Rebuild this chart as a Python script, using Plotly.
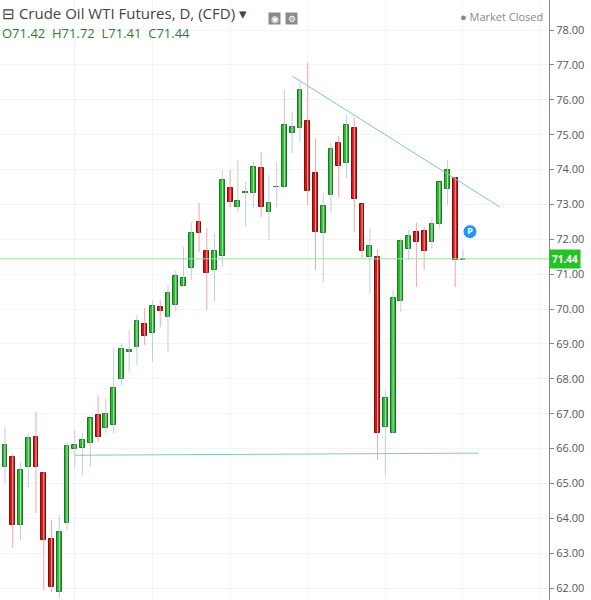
import plotly.graph_objects as go

# daily candles, oldest first
opens = [65.47, 65.76, 63.81, 65.47, 66.33, 65.30, 63.40, 61.89, 63.86, 66.00,
         66.01, 66.16, 66.96, 66.59, 66.67, 67.99, 68.78, 68.91, 69.57, 69.31,
         70.06, 69.77, 70.11, 70.66, 71.18, 72.49, 71.66, 71.12, 71.52, 73.47,
         72.92, 73.32, 73.33, 74.04, 72.78, 73.49, 73.50, 75.05, 75.19, 75.39,
         73.90, 72.18, 73.27, 74.76, 74.19, 75.19, 73.01, 71.49, 71.49, 66.62,
         66.44, 70.23, 71.72, 72.21, 72.24, 71.92, 72.44, 73.44, 73.76, 71.42]
highs = [66.62, 65.85, 65.60, 66.44, 67.05, 65.33, 63.95, 64.09, 66.16, 66.53,
         66.44, 66.87, 67.53, 67.42, 68.88, 69.02, 69.40, 69.83, 70.03, 70.26,
         70.26, 70.70, 71.10, 71.78, 72.49, 73.04, 72.32, 72.18, 73.99, 73.99,
         74.27, 73.64, 74.21, 74.50, 73.84, 74.21, 76.28, 75.65, 76.48, 77.05,
         74.90, 73.33, 74.79, 74.96, 75.56, 75.48, 73.01, 72.32, 71.72, 67.68,
         70.54, 72.04, 72.26, 72.47, 72.35, 72.64, 73.64, 74.27, 73.79, 71.72]
lows = [65.01, 63.15, 63.38, 64.87, 64.15, 61.94, 61.89, 61.71, 63.66, 65.44,
        65.24, 65.47, 66.19, 66.44, 66.44, 67.82, 68.19, 68.39, 68.97, 68.48,
        69.48, 68.77, 69.95, 70.63, 70.83, 71.63, 69.97, 70.20, 71.20, 72.92,
        72.78, 72.35, 72.90, 72.64, 71.98, 72.90, 73.50, 74.47, 74.79, 72.98,
        71.12, 70.77, 72.75, 73.21, 73.76, 72.21, 71.46, 70.46, 65.67, 65.24,
        66.44, 69.91, 71.40, 70.63, 71.12, 71.75, 72.30, 72.98, 70.63, 71.41]
closes = [66.10, 63.81, 65.38, 66.30, 65.47, 63.38, 62.03, 63.60, 66.07, 66.10,
          66.24, 66.87, 66.33, 66.99, 67.73, 68.85, 68.82, 69.66, 69.23, 70.09,
          69.94, 70.45, 70.95, 70.89, 72.18, 72.18, 71.03, 71.66, 73.70, 73.07,
          73.10, 73.35, 74.07, 72.92, 73.04, 73.51, 75.28, 75.22, 76.28, 73.38,
          72.21, 72.95, 74.59, 74.10, 75.28, 73.15, 71.66, 71.81, 66.44, 67.45,
          70.31, 71.95, 72.09, 71.92, 71.66, 72.44, 73.64, 73.99, 71.41, 71.44]
days = list(range(len(opens)))

resistance_x = [37.0, 63.8]
resistance_y = [76.68, 72.92]
support_x = [9.0, 61.0]
support_y = [65.81, 65.87]
last_price = 71.44

GREEN = '#1fc11f'
RED = '#d41616'

fig = go.Figure()

# wicks first, pale like the reference
for up in (True, False):
    wx, wy = [], []
    for d, o, h, l, c in zip(days, opens, highs, lows, closes):
        if (c >= o) == up:
            wx += [d, d, None]
            wy += [l, h, None]
    fig.add_trace(go.Scatter(x=wx, y=wy, mode='lines', hoverinfo='skip', showlegend=False,
                             line=dict(color='#b9d3dc' if up else '#f2a6a6', width=1)))

# bodies
for up in (True, False):
    bx, bbase, bh = [], [], []
    for d, o, c in zip(days, opens, closes):
        if (c >= o) == up:
            bx.append(d)
            bbase.append(min(o, c))
            bh.append(max(abs(c - o), 0.02))
    fig.add_trace(go.Bar(x=bx, base=bbase, y=bh, width=0.62, hoverinfo='skip', showlegend=False,
                         marker=dict(color=GREEN if up else RED,
                                     line=dict(color='#2a6e2a' if up else '#7a1010', width=1))))

fig.add_trace(go.Scatter(x=resistance_x, y=resistance_y, mode='lines',
                         line=dict(color='#7ec8c0', width=1), showlegend=False, hoverinfo='skip'))
fig.add_trace(go.Scatter(x=support_x, y=support_y, mode='lines',
                         line=dict(color='#7ec8c0', width=1), showlegend=False, hoverinfo='skip'))
fig.add_hline(y=last_price, line=dict(color='#9be39b', width=1))

fig.add_trace(go.Scatter(x=[59.9], y=[72.22], mode='markers+text', text=['<b>P</b>'],
                         textfont=dict(color='white', size=9), textposition='middle center',
                         marker=dict(size=14, color='#2196f3', line=dict(color='white', width=1)),
                         showlegend=False, hoverinfo='skip'))

fig.add_annotation(x=1, xref='paper', xanchor='left', y=last_price, yref='y',
                   text='<b>71.44</b>', showarrow=False, bgcolor='#22c322',
                   font=dict(color='white', size=10, family='Open Sans'), borderpad=2)

fig.add_annotation(x=0, xref='paper', y=1, yref='paper', xanchor='left', yanchor='top',
                   text='⊟ Crude Oil WTI Futures, D, (CFD) ▾', showarrow=False,
                   font=dict(size=15, color='#444', family='Open Sans'), yshift=-1)
for ax, sym in ((274, '◉'), (291, '⚙')):
    fig.add_annotation(x=ax / 549, xref='paper', y=1, yref='paper', xanchor='center',
                       yanchor='top', text=sym, showarrow=False, bgcolor='#8a8a8a',
                       width=11, height=11, borderpad=0,
                       font=dict(size=9, color='white'), yshift=-12)
fig.add_annotation(x=0, xref='paper', y=1, yref='paper', xanchor='left', yanchor='top',
                   text='O71.42  H71.72  L71.41  C71.44', showarrow=False,
                   font=dict(size=13, color='#2e7d32', family='Open Sans'), yshift=-22)
fig.add_annotation(x=0.993, xref='paper', y=1, yref='paper', xanchor='right', yanchor='top',
                   text='● Market Closed', showarrow=False,
                   font=dict(size=11, color='#888', family='Open Sans'), yshift=-7)

fig.update_layout(
    width=591, height=600, margin=dict(l=0, r=42, t=0, b=0),
    paper_bgcolor='white', plot_bgcolor='white', bargap=0,
    xaxis=dict(range=[-0.64, 70.08], showticklabels=False,
               showgrid=True, dtick=10, tick0=-1, gridcolor='#f2f4f8', zeroline=False),
    yaxis=dict(range=[61.66, 78.86], side='right', dtick=1, tickformat='.2f',
               showgrid=True, gridcolor='#f2f4f8', showline=True, linecolor='#888',
               ticks='outside', ticklen=4, tickcolor='#888', zeroline=False,
               tickfont=dict(size=11, color='#555', family='Open Sans')),
)

fig.write_html('out.html', config={'displayModeBar': False},
               post_script="document.body.style.margin='0';")
